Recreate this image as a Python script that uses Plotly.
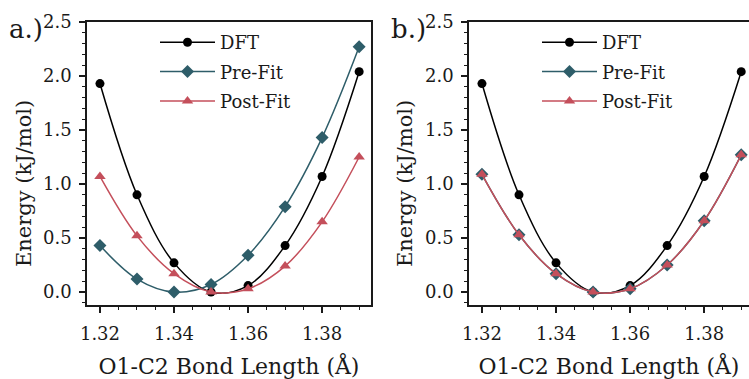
import plotly.graph_objects as go

# Bond lengths (Å) and relative energies (kJ/mol)
bond_length = [1.32, 1.33, 1.34, 1.35, 1.36, 1.37, 1.38, 1.39]

dft = [1.93, 0.90, 0.27, 0.00, 0.06, 0.43, 1.07, 2.04]

pre_fit_a = [0.43, 0.12, 0.00, 0.07, 0.34, 0.79, 1.43, 2.27]
post_fit_a = [1.07, 0.52, 0.17, 0.00, 0.03, 0.24, 0.65, 1.25]

pre_fit_b = [1.09, 0.53, 0.17, 0.00, 0.03, 0.25, 0.66, 1.27]
post_fit_b = [1.09, 0.53, 0.17, 0.00, 0.03, 0.25, 0.66, 1.27]

x_ticks = [1.32, 1.34, 1.36, 1.38]
y_ticks = [0.0, 0.5, 1.0, 1.5, 2.0, 2.5]

panel_labels = ["a.)", "b.)"]
x_title = "O1-C2 Bond Length (Å)"
y_title = "Energy (kJ/mol)"

W, H = 749, 379
FONT = "DejaVu Serif"
INK = "#1a1a1a"
C_DFT = "#000000"
C_PRE = "#2e5d69"
C_POST = "#c44f5b"

fig = go.Figure()


def add_panel(idx, pre, post):
    xa = "x" if idx == 1 else f"x{idx}"
    ya = "y" if idx == 1 else f"y{idx}"
    lg = "legend" if idx == 1 else f"legend{idx}"
    series = [
        ("DFT", dft, C_DFT, "circle", 9),
        ("Pre-Fit", pre, C_PRE, "diamond", 10),
        ("Post-Fit", post, C_POST, "triangle-up", 10),
    ]
    for name, vals, col, sym, size in series:
        fig.add_trace(go.Scatter(
            x=bond_length, y=vals, name=name, mode="lines+markers",
            line=dict(color=col, width=1.5, shape="spline", smoothing=1.0),
            marker=dict(color=col, symbol=sym, size=size),
            xaxis=xa, yaxis=ya, legend=lg, legendgroup=f"{lg}-{name}",
            cliponaxis=False,
        ))


add_panel(1, pre_fit_a, post_fit_a)
add_panel(2, pre_fit_b, post_fit_b)

y_dom = [1 - 305 / H, 1 - 22 / H]
x_dom_a = [87 / W, 371 / W]
x_dom_b = [469 / W, 1.0]

tickfont = dict(family=FONT, size=18, color=INK)
titlefont = dict(family=FONT, size=22, color=INK)


def xaxis_cfg(dom, rng, anchor):
    return dict(
        domain=dom, range=rng, anchor=anchor, automargin=False,
        tickvals=x_ticks, ticktext=[f"{v:.2f}" for v in x_ticks],
        ticks="outside", ticklen=6, tickwidth=1.5, tickcolor=INK,
        minor=dict(dtick=0.005, tick0=1.32, ticks="outside", ticklen=3, tickwidth=1, tickcolor=INK),
        showline=True, linecolor=INK, linewidth=1.5, mirror=True,
        showgrid=False, zeroline=False, tickfont=tickfont, ticklabelstandoff=6,
        title=dict(text=x_title, font=titlefont, standoff=15),
    )


def yaxis_cfg(anchor, mirror):
    return dict(
        domain=y_dom, range=[-0.12, 2.5], anchor=anchor, automargin=False,
        tickvals=y_ticks, ticktext=[f"{v:.1f}" for v in y_ticks],
        ticks="outside", ticklen=6, tickwidth=1.5, tickcolor=INK,
        minor=dict(dtick=0.1, tick0=0, ticks="outside", ticklen=3, tickwidth=1, tickcolor=INK),
        showline=True, linecolor=INK, linewidth=1.5, mirror=mirror,
        showgrid=False, zeroline=False, tickfont=tickfont, ticklabelstandoff=4,
    )


legend_common = dict(
    font=dict(family=FONT, size=18, color=INK),
    bgcolor="rgba(0,0,0,0)", itemwidth=55, tracegroupgap=3,
    xanchor="left", yanchor="top",
)


def label(text, x_px, y_px, size, angle=0):
    return dict(text=text, x=x_px / W, y=1 - y_px / H, xref="paper", yref="paper",
                xanchor="center" if angle else "left", yanchor="middle",
                textangle=angle, showarrow=False,
                font=dict(family=FONT, size=size, color=INK))


fig.update_layout(
    width=W, height=H,
    margin=dict(l=0, r=0, t=0, b=0),
    paper_bgcolor="white", plot_bgcolor="white",
    xaxis=xaxis_cfg(x_dom_a, [1.3165, 1.3932], "y"),
    yaxis=yaxis_cfg("x", True),
    xaxis2=xaxis_cfg(x_dom_b, [1.3165, 1.3921], "y2"),
    yaxis2=yaxis_cfg("x2", False),
    legend=dict(x=155 / W, y=1 - 24 / H, **legend_common),
    legend2=dict(x=537 / W, y=1 - 24 / H, **legend_common),
    annotations=[
        label(panel_labels[0], 7, 29, 26),
        label(panel_labels[1], 389, 29, 26),
        label(y_title, 24, 184, 21, -90),
        label(y_title, 405, 184, 21, -90),
    ],
)

fig.write_html("out.html")
